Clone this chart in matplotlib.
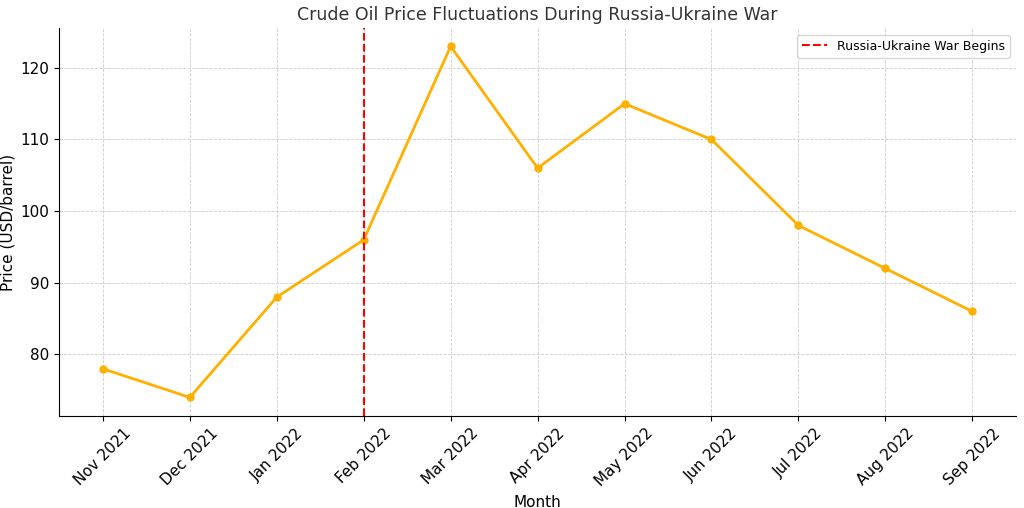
import matplotlib
matplotlib.use("Agg")
import matplotlib.pyplot as plt

months = ["Nov 2021","Dec 2021","Jan 2022","Feb 2022","Mar 2022","Apr 2022",
          "May 2022","Jun 2022","Jul 2022","Aug 2022","Sep 2022"]
prices = [78, 74, 88, 96, 123, 106, 115, 110, 98, 92, 86]
war_month = "Feb 2022"

fig = plt.figure(figsize=(10.24, 5.08), dpi=100)
ax = fig.add_axes([0.058, 0.181, 0.934, 0.763])
x = list(range(len(months)))
ax.plot(x, prices, color="#FFB000", marker="o", markersize=5, linewidth=2)
ax.axvline(months.index(war_month), color="red", linestyle="--", linewidth=1.5,
           label="Russia-Ukraine War Begins")
ax.set_xticks(x)
ax.set_xticklabels(months, rotation=45, fontsize=11)
ax.tick_params(axis="y", labelsize=11)
ax.set_xlim(-0.5, 10.5)
ax.set_ylim(71.4, 125.5)
ax.grid(True, linestyle="--", linewidth=0.6, color="#cccccc")
ax.set_title("Crude Oil Price Fluctuations During Russia-Ukraine War", fontsize=12.5, color="#333333")
ax.set_xlabel("Month", fontsize=11)
ax.set_ylabel("Price (USD/barrel)", fontsize=11)
ax.legend(loc="upper right", fontsize=9)
for s in ["top", "right"]:
    ax.spines[s].set_visible(False)
fig.savefig("out.png", dpi=100)
